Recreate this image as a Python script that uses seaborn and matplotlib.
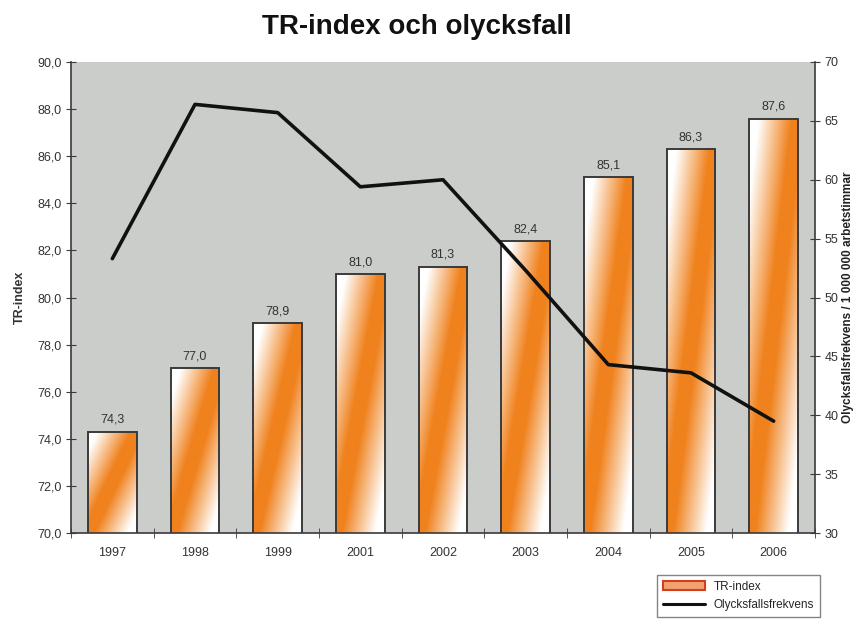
import numpy as np
import matplotlib
matplotlib.use("Agg")
import matplotlib.pyplot as plt
from matplotlib.ticker import FuncFormatter, FixedLocator
from matplotlib.colors import LinearSegmentedColormap
from matplotlib.patches import Patch
from matplotlib.lines import Line2D
import seaborn as sns

years = ["1997", "1998", "1999", "2001", "2002", "2003", "2004", "2005", "2006"]
tr_index = [74.3, 77.0, 78.9, 81.0, 81.3, 82.4, 85.1, 86.3, 87.6]
frekvens = [53.3, 66.4, 65.7, 59.4, 60.0, 52.3, 44.3, 43.6, 39.5]

title = "TR-index och olycksfall"
left_label = "TR-index"
right_label = "Olycksfallsfrekvens / 1 000 000 arbetstimmar"
legend_bar = "TR-index"
legend_line = "Olycksfallsfrekvens"

ORANGE = "#F0821E"
BG = "#CBCDCB"
EDGE = "#3a3a3a"

sns.set_style("ticks")
plt.rcParams["font.family"] = ["Liberation Sans", "DejaVu Sans"]

fig = plt.figure(figsize=(8.63, 6.2), dpi=100)
ax = fig.add_axes([71/863, 1-533/620, (815-71)/863, (533-62)/620])
ax.set_facecolor(BG)

sns.barplot(x=years, y=tr_index, ax=ax, width=0.59, color=ORANGE,
            edgecolor=EDGE, linewidth=1.4, saturation=1)
YMIN, YMAX = 70, 90
ax.set_ylim(YMIN, YMAX)
ax.set_xlim(-0.5, len(years) - 0.5)

cmap = LinearSegmentedColormap.from_list(
    "og", [(0, "white"), (0.42, ORANGE), (0.58, ORANGE), (1, "white")])
n = 200
uu, vv = np.meshgrid(np.linspace(0, 1, n), np.linspace(1, 0, n))
t = np.clip((uu - vv) * 0.62 + 0.5, 0, 1)
for p in ax.patches:
    x0, w = p.get_x(), p.get_width()
    top = p.get_y() + p.get_height()
    ax.imshow(t, cmap=cmap, vmin=0, vmax=1, aspect="auto",
              extent=(x0, x0 + w, YMIN, top), zorder=1.5,
              interpolation="bilinear")
    p.set_facecolor("none")
    p.set_zorder(2)
ax.set_ylim(YMIN, YMAX)
ax.set_xlim(-0.5, len(years) - 0.5)

for i, v in enumerate(tr_index):
    ax.text(i, v + 0.25, f"{v:.1f}".replace(".", ","), ha="center", va="bottom",
            fontsize=9, color="#333333", zorder=5)

ax.set_yticks(np.arange(70, 90.1, 2))
ax.yaxis.set_major_formatter(FuncFormatter(lambda v, p: f"{v:.1f}".replace(".", ",")))
ax.xaxis.set_major_locator(FixedLocator(range(len(years))))
ax.set_xticklabels(years)
ax.xaxis.set_minor_locator(FixedLocator(np.arange(-0.5, len(years), 1.0)))
ax.tick_params(axis="x", which="major", length=0, pad=10, labelsize=9, labelcolor="#333333")
ax.tick_params(axis="x", which="minor", length=7, direction="inout", color=EDGE)
ax.tick_params(axis="y", length=7, direction="inout", labelsize=9, labelcolor="#333333", color=EDGE)
ax.set_xlabel("")
ax.set_ylabel(left_label, fontsize=9, fontweight="bold", color="#333333", labelpad=8)
for s in ["left", "bottom"]:
    ax.spines[s].set_color(EDGE)
    ax.spines[s].set_linewidth(1.2)
for s in ["top", "right"]:
    ax.spines[s].set_visible(False)

ax2 = ax.twinx()
sns.lineplot(x=years, y=frekvens, ax=ax2, color="#111111", linewidth=2.6, sort=False)
ax2.set_ylim(30, 70)
ax2.set_yticks(np.arange(30, 70.1, 5))
ax2.tick_params(axis="y", length=7, direction="inout", labelsize=9, labelcolor="#333333", color=EDGE)
ax2.set_ylabel(right_label, fontsize=8.5, fontweight="bold", color="#222222", labelpad=2)
for s in ["left", "bottom", "top"]:
    ax2.spines[s].set_visible(False)
ax2.spines["right"].set_color(EDGE)
ax2.spines["right"].set_linewidth(1.2)

fig.text(417/863, 1-27/620, title, ha="center", va="center", fontsize=20,
         fontweight="bold", color="#111111")

handles = [Patch(facecolor="#F4A070", edgecolor="#D04020", linewidth=1.5),
           Line2D([0], [0], color="#111111", linewidth=2.2)]
leg = fig.legend(handles, [legend_bar, legend_line], loc="lower right",
                 bbox_to_anchor=(820/863, 3/620), borderaxespad=0, fontsize=8.5,
                 frameon=True, fancybox=False, edgecolor="#666666",
                 handlelength=3.6, handletextpad=0.7, borderpad=0.5,
                 labelspacing=0.55)
leg.get_frame().set_linewidth(1.0)

fig.savefig("out.png", dpi=100, facecolor="white")
